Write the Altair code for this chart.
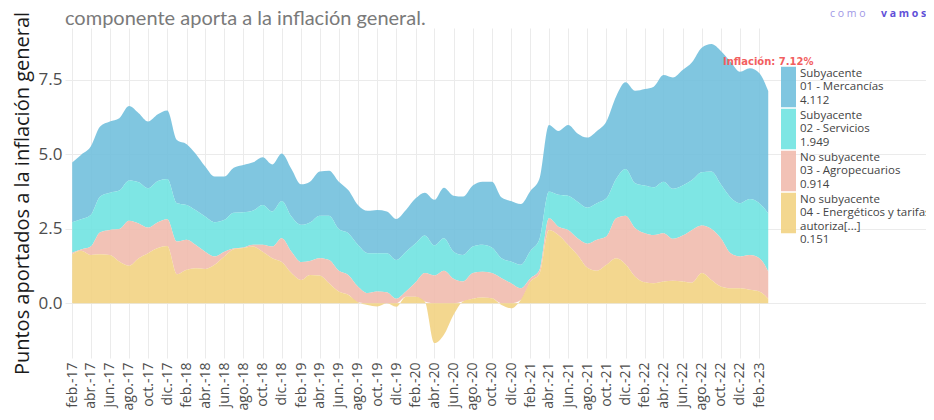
import altair as alt
import pandas as pd

# ---- data ----
fechas = pd.date_range("2017-02-01", "2023-03-01", freq="MS")  # monthly, feb-17 .. mar-23

energeticos = [1.64, 1.76, 1.62, 1.64, 1.62, 1.40, 1.26, 1.51, 1.68, 1.85, 1.92, 0.97,
               1.12, 1.17, 1.15, 1.29, 1.57, 1.81, 1.85, 1.90, 1.73, 1.51, 1.38, 1.01,
               0.78, 0.95, 0.93, 0.67, 0.39, 0.28, 0.03, -0.06, -0.11, 0.00, -0.12, 0.22,
               0.22, 0.06, -1.34, -1.06, -0.39, 0.06, 0.15, 0.19, 0.17, -0.06, -0.17, 0.11,
               0.73, 0.98, 2.46, 2.29, 1.96, 1.62, 1.20, 1.09, 1.29, 1.51, 1.31, 0.89,
               0.70, 0.67, 0.73, 0.75, 0.73, 0.69, 1.01, 0.78, 0.56, 0.50, 0.50, 0.45,
               0.39, 0.151]
agropecuarios = [0.05, 0.04, 0.28, 0.74, 0.84, 1.09, 1.51, 1.17, 0.86, 0.87, 0.90, 1.10,
                 1.01, 0.79, 0.58, 0.28, 0.16, 0.03, 0.02, 0.06, 0.23, 0.39, 0.80, 0.72,
                 0.60, 0.47, 0.58, 0.78, 0.70, 0.67, 0.53, 0.34, 0.39, 0.37, 0.15, 0.17,
                 0.48, 0.95, 0.93, 1.09, 0.82, 0.67, 0.86, 0.87, 0.84, 0.84, 0.67, 0.39,
                 0.11, 0.12, 0.39, 0.28, 0.50, 0.56, 0.80, 1.04, 0.95, 1.34, 1.63, 1.63,
                 1.65, 1.62, 1.62, 1.41, 1.54, 1.77, 1.60, 1.71, 1.62, 1.18, 1.07, 1.17,
                 1.12, 0.914]
servicios = [1.03, 1.02, 1.06, 1.20, 1.25, 1.29, 1.35, 1.38, 1.32, 1.38, 1.35, 1.29,
             1.17, 1.17, 1.18, 1.15, 1.07, 1.20, 1.18, 1.15, 1.34, 1.18, 1.25, 1.18,
             1.25, 1.29, 1.43, 1.49, 1.40, 1.40, 1.40, 1.34, 1.29, 1.31, 1.30, 1.34,
             1.31, 1.26, 1.01, 1.09, 0.91, 0.89, 0.89, 0.90, 0.86, 0.67, 0.73, 0.79,
             0.92, 1.03, 0.90, 1.07, 1.15, 1.23, 1.21, 1.23, 1.28, 1.32, 1.57, 1.51,
             1.60, 1.60, 1.73, 1.68, 1.68, 1.68, 1.79, 1.93, 1.81, 1.87, 1.79, 1.88,
             1.85, 1.949]
mercancias = [2.00, 2.16, 2.30, 2.35, 2.39, 2.43, 2.50, 2.32, 2.24, 2.24, 2.30, 2.12,
              2.04, 1.90, 1.68, 1.53, 1.45, 1.51, 1.59, 1.62, 1.60, 1.58, 1.60, 1.60,
              1.36, 1.37, 1.48, 1.51, 1.59, 1.45, 1.34, 1.42, 1.45, 1.40, 1.38, 1.40,
              1.51, 1.44, 1.53, 1.70, 1.88, 1.96, 2.05, 2.12, 2.21, 2.04, 2.03, 2.04,
              2.01, 2.03, 2.23, 2.14, 2.37, 2.29, 2.35, 2.42, 2.58, 2.77, 2.91, 3.10,
              3.24, 3.38, 3.58, 3.74, 3.88, 3.95, 4.18, 4.28, 4.48, 4.56, 4.41, 4.39,
              4.36, 4.112]

series_labels = [
    "Subyacente|01 - Mercancías|4.112",
    "Subyacente|02 - Servicios|1.949",
    "No subyacente|03 - Agropecuarios|0.914",
    "No subyacente|04 - Energéticos y tarifas|autoriza[...]|0.151",
]
series_colors = ["#72c0dd", "#70e3e1", "#f1bbae", "#f2d383"]
stack_order = [4, 3, 2, 1]
series_values = [mercancias, servicios, agropecuarios, energeticos]

tick_dates = pd.date_range("2017-02-01", "2023-02-01", freq="2MS")

ann_fecha = ["2023-03-01"]
ann_valor = [8.1]
ann_texto = ["Inflación: 7.12%"]

titulo = "componente aporta a la inflación general."
logo_a = "c    o    m    o"
logo_b = "v a m o s"

# ---- tables ----
rows = []
for lab, ordn, vals in zip(series_labels, stack_order, series_values):
    for f, v in zip(fechas, vals):
        rows.append({"fecha": f, "serie": lab, "orden": ordn, "valor": v})
df = pd.DataFrame(rows)

ann_df = pd.DataFrame({"fecha": pd.to_datetime(ann_fecha), "valor": ann_valor, "texto": ann_texto})

tick_vals = [alt.DateTime(year=int(d.year), month=int(d.month), date=1) for d in tick_dates]

month_expr = ("['ene.','feb.','mar.','abr.','may.','jun.','jul.','ago.','sep.','oct.','nov.','dic.']"
              "[month(datum.value)] + '-' + timeFormat(datum.value, '%y')")

x_scale = alt.Scale(domain=[alt.DateTime(year=2017, month=1, date=9),
                            alt.DateTime(year=2024, month=7, date=16)])
y_scale = alt.Scale(domain=[-1.84, 9.24], nice=False, zero=False)

area = alt.Chart(df).mark_area(interpolate="monotone", opacity=0.9).encode(
    x=alt.X("fecha:T", scale=x_scale,
            axis=alt.Axis(values=tick_vals, tickCount=200, labelExpr=month_expr, labelAngle=270,
                          labelFontSize=14, labelPadding=4, labelOverlap=False,
                          labelSeparation=0, labelFlush=False, labelBound=False, title=None)),
    y=alt.Y("valor:Q", stack="zero", scale=y_scale,
            axis=alt.Axis(values=[0, 2.5, 5, 7.5], format=".1f", labelFontSize=17,
                          labelPadding=3, title="Puntos aportados a la inflación general",
                          titleFontSize=20, titleFont="Open Sans", titleFontWeight="normal",
                          titleColor="#1a1a1a", titlePadding=6)),
    color=alt.Color("serie:N",
                    scale=alt.Scale(domain=series_labels, range=series_colors),
                    legend=alt.Legend(title=None, orient="none", legendX=716, legendY=38,
                                      labelExpr="split(datum.label, '|')",
                                      labelFontSize=11.5, labelFont="Open Sans",
                                      labelColor="#444444", labelLimit=400, labelOffset=4,
                                      symbolType="M-1,-0.9V4.5H1V-0.9Z", symbolSize=225,
                                      symbolStrokeWidth=0, symbolOpacity=0.9,
                                      rowPadding=0, padding=0)),
    order=alt.Order("orden:Q", sort="ascending"),
)

ann = alt.Chart(ann_df).mark_text(color="#f25f5f", fontWeight="bold", fontSize=10,
                                  font="DejaVu Sans").encode(
    x="fecha:T", y="valor:Q", text="texto:N")

title_mark = alt.Chart(pd.DataFrame({"t": [titulo]})).mark_text(
    color="#7a7a7a", fontSize=20, font="Lato", align="left", baseline="alphabetic").encode(
    x=alt.value(0), y=alt.value(-3.5), text="t:N")

logo1 = alt.Chart(pd.DataFrame({"t": [logo_a]})).mark_text(
    color="#a097e6", fontSize=10.5, font="Open Sans", align="left", baseline="middle").encode(
    x=alt.value(765), y=alt.value(-14), text="t:N")
logo2 = alt.Chart(pd.DataFrame({"t": [logo_b]})).mark_text(
    color="#5f50d8", fontSize=10.5, fontWeight="bold", font="Open Sans", align="left",
    baseline="middle").encode(
    x=alt.value(816), y=alt.value(-14), text="t:N")

chart = alt.layer(area, ann, title_mark, logo1, logo2).properties(
    width=861, height=330,
    autosize=alt.AutoSizeParams(type="none"),
    padding={"left": 57, "top": 20, "right": 0, "bottom": 54},
).configure_view(strokeWidth=0).configure_axis(
    grid=True, gridColor="#ebebeb", gridWidth=1, domain=False, ticks=False,
    labelColor="#4d4d4d", labelFont="Open Sans",
).configure_axisX(labelOverlap=False)

chart.save("out.html", embed_options={"renderer": "svg", "actions": False})
